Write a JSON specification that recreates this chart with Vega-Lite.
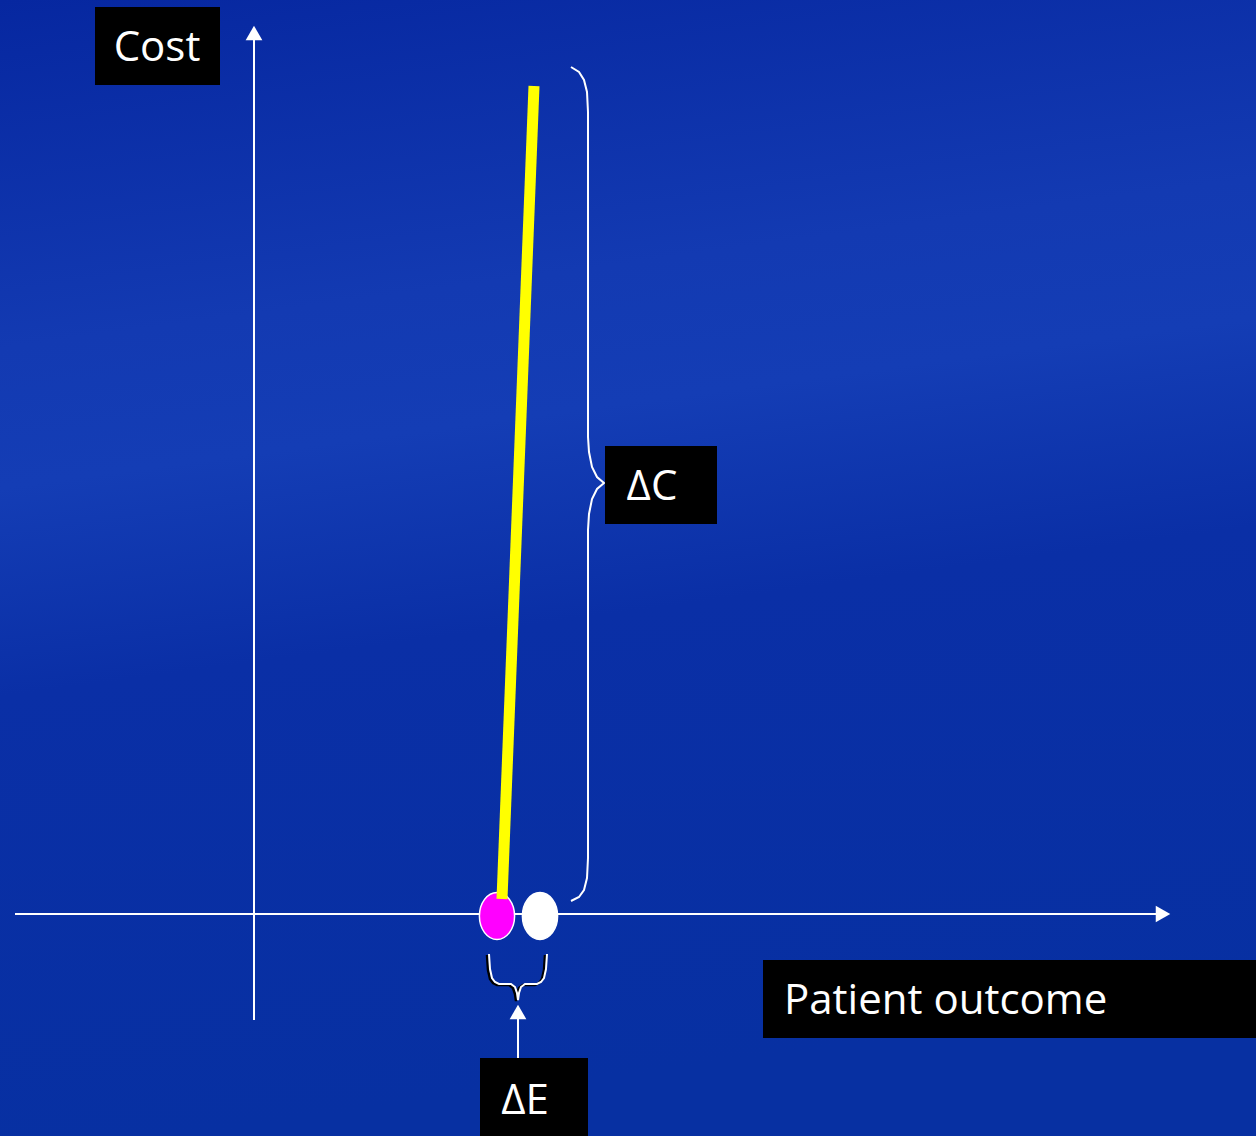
{
  "$schema": "https://vega.github.io/schema/vega-lite/v6.json",
  "width": 1256,
  "height": 1136,
  "padding": 0,
  "autosize": {"type": "fit", "contains": "padding"},
  "background": "#0a2fa3",
  "config": {"view": {"stroke": null}},
  "datasets": {
    "bg": [{"x": -254, "x2": 1002, "y": -222, "y2": 914}],
    "axes": [
      {"name": "cost axis", "x": 0, "y": -106, "x2": 0, "y2": 877},
      {"name": "outcome axis", "x": -239, "y": 0, "x2": 904, "y2": 0},
      {"name": "dE arrow", "x": 264, "y": -144, "x2": 264, "y2": -102}
    ],
    "heads": [
      {"name": "cost axis", "x": 0, "y": 881, "shape": "triangle-up"},
      {"name": "outcome axis", "x": 909, "y": 0, "shape": "triangle-right"},
      {"name": "dE arrow", "x": 264, "y": -98, "shape": "triangle-up"}
    ],
    "icer": [{"x": 248, "y": 15, "x2": 280, "y2": 828}],
    "options": [
      {"option": "comparator", "x": 243, "y": -2},
      {"option": "new treatment", "x": 286, "y": -2}
    ],
    "braceC": [
      {"i": 0, "x": 317, "y": 847}, {"i": 1, "x": 325, "y": 842}, {"i": 2, "x": 330, "y": 834},
      {"i": 3, "x": 333, "y": 822}, {"i": 4, "x": 334, "y": 802}, {"i": 5, "x": 334, "y": 477},
      {"i": 6, "x": 335, "y": 462}, {"i": 7, "x": 338, "y": 447}, {"i": 8, "x": 343, "y": 437},
      {"i": 9, "x": 350, "y": 431}, {"i": 10, "x": 343, "y": 425}, {"i": 11, "x": 338, "y": 415},
      {"i": 12, "x": 335, "y": 400}, {"i": 13, "x": 334, "y": 384}, {"i": 14, "x": 334, "y": 56},
      {"i": 15, "x": 333, "y": 36}, {"i": 16, "x": 330, "y": 24}, {"i": 17, "x": 325, "y": 17},
      {"i": 18, "x": 317, "y": 13}
    ],
    "braceE": [
      {"i": 0, "x": 235, "y": -40}, {"i": 1, "x": 236, "y": -55}, {"i": 2, "x": 238, "y": -64},
      {"i": 3, "x": 241, "y": -68}, {"i": 4, "x": 245, "y": -70}, {"i": 5, "x": 257, "y": -70},
      {"i": 6, "x": 261, "y": -73}, {"i": 7, "x": 263, "y": -79}, {"i": 8, "x": 264, "y": -86},
      {"i": 9, "x": 265, "y": -79}, {"i": 10, "x": 267, "y": -73}, {"i": 11, "x": 271, "y": -70},
      {"i": 12, "x": 283, "y": -70}, {"i": 13, "x": 287, "y": -68}, {"i": 14, "x": 290, "y": -64},
      {"i": 15, "x": 292, "y": -55}, {"i": 16, "x": 293, "y": -40}
    ],
    "boxes": [
      {"label": "Cost", "x": -159, "x2": -34, "y": 907, "y2": 829, "tx": -97, "ty": 866, "align": "center"},
      {"label": "ΔC", "x": 351, "x2": 463, "y": 468, "y2": 390, "tx": 398, "ty": 427, "align": "center"},
      {"label": "Patient outcome", "x": 509, "x2": 1002, "y": -46, "y2": -124, "tx": 530, "ty": -87, "align": "left"},
      {"label": "ΔE", "x": 226, "x2": 334, "y": -144, "y2": -222, "tx": 271, "ty": -187, "align": "center"}
    ]
  },
  "encoding": {
    "x": {"field": "x", "type": "quantitative", "scale": {"domain": [-254, 1002], "nice": false, "zero": false}, "axis": null},
    "y": {"field": "y", "type": "quantitative", "scale": {"domain": [-222, 914], "nice": false, "zero": false}, "axis": null}
  },
  "layer": [
    {
      "data": {"name": "bg"},
      "mark": {"type": "rect", "fill": {"gradient": "linear", "x1": 0, "y1": 0, "x2": 0.15, "y2": 1, "stops": [
        {"offset": 0, "color": "#0627a0"},
        {"offset": 0.3, "color": "#133ab2"},
        {"offset": 0.42, "color": "#143db5"},
        {"offset": 0.6, "color": "#0a2fa6"},
        {"offset": 1, "color": "#0730a2"}
      ]}},
      "encoding": {"x2": {"field": "x2"}, "y2": {"field": "y2"}}
    },
    {
      "data": {"name": "axes"},
      "mark": {"type": "rule", "color": "white", "strokeWidth": 2},
      "encoding": {"x2": {"field": "x2"}, "y2": {"field": "y2"}}
    },
    {
      "data": {"name": "heads"},
      "mark": {"type": "point", "filled": true, "color": "white", "opacity": 1, "size": 280},
      "encoding": {"shape": {"field": "shape", "type": "nominal", "scale": null}}
    },
    {
      "data": {"name": "braceC"},
      "mark": {"type": "line", "color": "white", "strokeWidth": 2},
      "encoding": {"order": {"field": "i", "type": "quantitative"}}
    },
    {
      "data": {"name": "braceE"},
      "mark": {"type": "line", "color": "black", "strokeWidth": 2.5, "xOffset": -2, "yOffset": 1},
      "encoding": {"order": {"field": "i", "type": "quantitative"}}
    },
    {
      "data": {"name": "braceE"},
      "mark": {"type": "line", "color": "white", "strokeWidth": 2},
      "encoding": {"order": {"field": "i", "type": "quantitative"}}
    },
    {
      "data": {"name": "options"},
      "mark": {"type": "point", "filled": true, "opacity": 1, "size": 2200, "stroke": "white", "strokeWidth": 1.5,
        "shape": "M -0.75 0 A 0.75 1 0 1 0 0.75 0 A 0.75 1 0 1 0 -0.75 0 Z"},
      "encoding": {"fill": {"field": "option", "type": "nominal", "scale": {"domain": ["comparator", "new treatment"], "range": ["#ff00ff", "#ffffff"]}, "legend": null}}
    },
    {
      "data": {"name": "icer"},
      "mark": {"type": "rule", "color": "#ffff00", "strokeWidth": 11},
      "encoding": {"x2": {"field": "x2"}, "y2": {"field": "y2"}}
    },
    {
      "data": {"name": "boxes"},
      "mark": {"type": "rect", "color": "black"},
      "encoding": {"x2": {"field": "x2"}, "y2": {"field": "y2"}}
    },
    {
      "data": {"name": "boxes"},
      "transform": [{"filter": "datum.align === 'center'"}],
      "mark": {"type": "text", "color": "white", "font": "Open Sans", "fontSize": 42, "baseline": "middle", "align": "center"},
      "encoding": {
        "x": {"field": "tx", "type": "quantitative"},
        "y": {"field": "ty", "type": "quantitative"},
        "text": {"field": "label"}
      }
    },
    {
      "data": {"name": "boxes"},
      "transform": [{"filter": "datum.align === 'left'"}],
      "mark": {"type": "text", "color": "white", "font": "Open Sans", "fontSize": 42, "baseline": "middle", "align": "left"},
      "encoding": {
        "x": {"field": "tx", "type": "quantitative"},
        "y": {"field": "ty", "type": "quantitative"},
        "text": {"field": "label"}
      }
    }
  ]
}
